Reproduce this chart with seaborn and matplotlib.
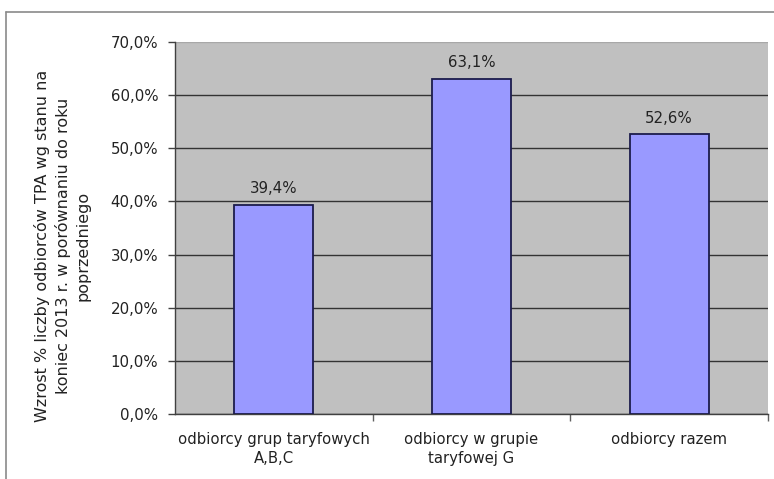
import matplotlib
matplotlib.use("Agg")
import matplotlib.pyplot as plt
import seaborn as sns
import pandas as pd
from matplotlib.lines import Line2D
from matplotlib.ticker import FixedLocator

categories = ["odbiorcy grup taryfowych\nA,B,C",
              "odbiorcy w grupie\ntaryfowej G",
              "odbiorcy razem"]
values = [39.4, 63.1, 52.6]
y_ticks = [0, 10, 20, 30, 40, 50, 60, 70]
y_label = "Wzrost % liczby odbiorców TPA wg stanu na\nkoniec 2013 r. w porównaniu do roku\npoprzedniego"

sns.set_theme(style="white")
plt.rcParams["font.family"] = ["DejaVu Sans"]
text_color = "#222222"

df = pd.DataFrame({"kategoria": categories, "wartosc": values})

fig = plt.figure(figsize=(7.74, 4.79), dpi=100)
fig.patch.set_facecolor("white")
ax = fig.add_axes([175 / 774, 65 / 479, 593 / 774, 372 / 479])
ax.set_facecolor("#c0c0c0")

sns.barplot(data=df, x="kategoria", y="wartosc", color="#9999ff",
            saturation=1, width=0.4, edgecolor="#1c1c4c", linewidth=1.3,
            ax=ax, zorder=3)

ax.set_ylim(0, 70)
ax.set_xlim(-0.5, 2.5)
ax.set_yticks(y_ticks)
ax.set_yticklabels([f"{t:.1f}".replace(".", ",") + "%" for t in y_ticks],
                   fontsize=10.8, color=text_color)
ax.yaxis.grid(True, color="#333333", linewidth=1.0, zorder=1)
ax.set_axisbelow(True)
ax.get_ygridlines()[-1].set_color("#a8a8a8")

ax.tick_params(axis="y", direction="out", length=5, width=1, color="#404040", pad=7, left=True)
ax.tick_params(axis="x", which="major", length=0, pad=13, labelsize=10.7, labelcolor=text_color)
ax.xaxis.set_minor_locator(FixedLocator([0.5, 1.5, 2.5]))
ax.tick_params(axis="x", which="minor", direction="out", length=5, width=1, color="#606060", bottom=True)
for lbl in ax.get_xticklabels():
    lbl.set_linespacing(1.35)

for side in ["top", "right"]:
    ax.spines[side].set_visible(False)
for side in ["left", "bottom"]:
    ax.spines[side].set_color("#404040")
    ax.spines[side].set_linewidth(1.0)

ax.set_xlabel("")
ax.set_ylabel(y_label, fontsize=11.5, color=text_color, linespacing=1.35)
ax.yaxis.set_label_coords(-0.143, 0.452)

for i, v in enumerate(values):
    ax.annotate(f"{v:.1f}".replace(".", ",") + "%", (i, v), xytext=(0, 6),
                textcoords="offset points", ha="center", va="bottom",
                fontsize=10.8, color=text_color)

# chart frame
fig.add_artist(Line2D([6 / 774, 1.0], [467 / 479, 467 / 479], color="#8a8a8a", linewidth=1.2))
fig.add_artist(Line2D([6 / 774, 6 / 774], [0.0, 467 / 479], color="#8a8a8a", linewidth=1.2))

fig.savefig("out.png", dpi=100)
